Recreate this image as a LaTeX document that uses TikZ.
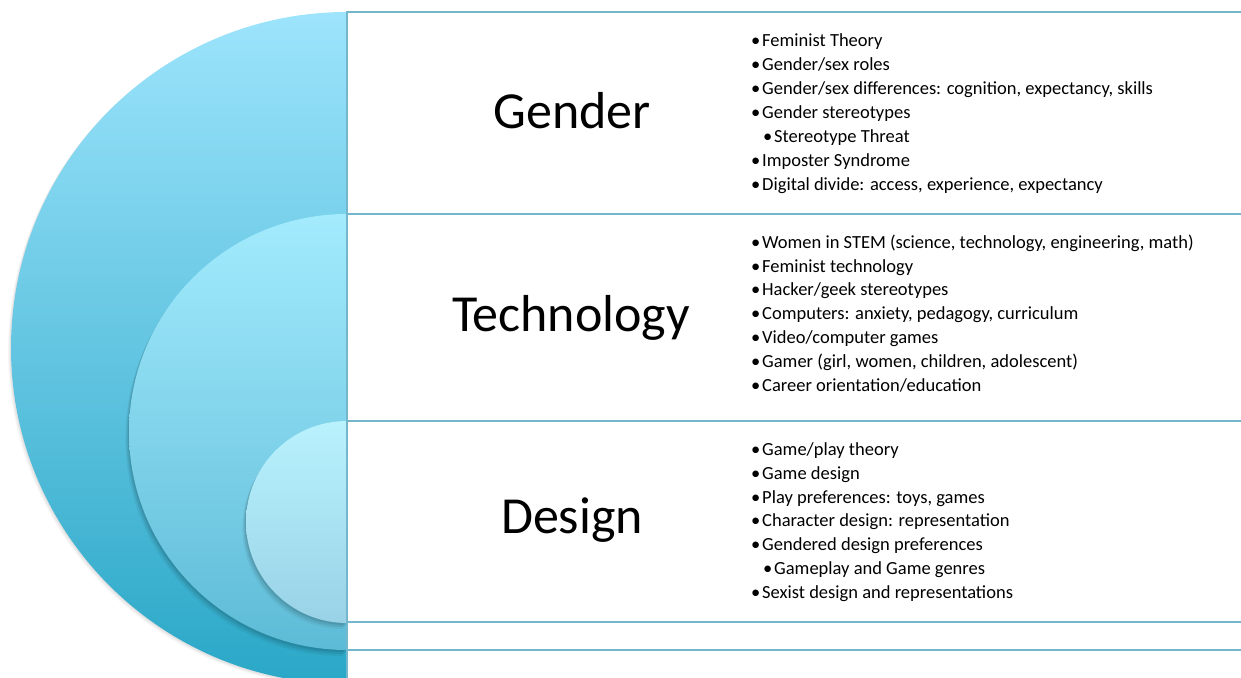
\documentclass[tikz,border=0pt]{standalone}
\usepackage{fontspec}
\setmainfont{Carlito}
\definecolor{outtop}{HTML}{9DE4FC}
\definecolor{outmid}{HTML}{88D7F1}
\definecolor{outbot}{HTML}{2AA7C7}
\definecolor{midtop}{HTML}{A3EBFD}
\definecolor{midmid}{HTML}{90DEF4}
\definecolor{midbot}{HTML}{5DBBD7}
\definecolor{inntop}{HTML}{B9F2FD}
\definecolor{innbot}{HTML}{99D2E6}
\definecolor{lineblue}{HTML}{74B6CC}
\newcommand{\bul}{\makebox[11pt][l]{\textbullet}}
\tikzset{
  head/.style={font=\fontsize{52}{60}\selectfont, anchor=base, inner sep=0pt},
  item/.style={font=\fontsize{18.5}{22}\selectfont, anchor=base west, inner sep=0pt},
  boxline/.style={draw=lineblue, line width=1.4pt, fill=white},
  sepline/.style={draw=lineblue, line width=1.4pt},
  shadowfill/.style={fill=black, opacity=#1},
}
\begin{document}
\begin{tikzpicture}[x=1pt,y=-1pt]
\useasboundingbox (0,0) rectangle (1241,677);
\clip (0,0) rectangle (1241,677);
% shadows and half discs
\begin{scope}
\clip (0,0) rectangle (347,677);
\foreach \d/\o in {3/0.03,2/0.04,1/0.05}{
  \fill[shadowfill=\o] (347-\d,12+\d) arc[start angle=270,end angle=90,radius=336] -- cycle;
}
\shade[top color=outtop, middle color=outmid, bottom color=outbot]
  (347,12) arc[start angle=270,end angle=90,radius=336] -- cycle;
\foreach \d/\o in {6/0.05,4/0.07,2/0.09}{
  \fill[shadowfill=\o] (347-\d*0.6,214+\d) arc[start angle=270,end angle=90,radius=218] -- cycle;
}
\shade[top color=midtop, middle color=midmid, bottom color=midbot]
  (347,214) arc[start angle=270,end angle=90,radius=218] -- cycle;
\foreach \d/\o in {6/0.05,4/0.07,2/0.09}{
  \fill[shadowfill=\o] (347-\d*0.6,421+\d) arc[start angle=270,end angle=90,radius=101] -- cycle;
}
\shade[top color=inntop, bottom color=innbot]
  (347,421) arc[start angle=270,end angle=90,radius=101] -- cycle;
\end{scope}
% boxes
\draw[boxline] (347,12) rectangle (1250,214);
\draw[boxline] (347,214) rectangle (1250,421);
\draw[boxline] (347,421) rectangle (1250,622);
\draw[sepline] (347,650) -- (1250,650);
\draw[sepline] (347,622) -- (347,680);
% headings
\node[head] (gender) at (572,128) {Gender};
\node[head] (technology) at (571,331) {Technology};
\node[head] (design) at (572,533) {Design};
% gender list
\node[item] (g1) at (751,46.5) {\bul Feminist Theory};
\node[item] (g2) at (751,70.5) {\bul Gender/sex roles};
\node[item] (g3) at (751,94.5) {\bul Gender/sex differences: cognition, expectancy, skills};
\node[item] (g4) at (751,118.5) {\bul Gender stereotypes};
\node[item] (g5) at (763,142.5) {\bul Stereotype Threat};
\node[item] (g6) at (751,166.5) {\bul Imposter Syndrome};
\node[item] (g7) at (751,190.5) {\bul Digital divide: access, experience, expectancy};
% technology list
\node[item] (t1) at (751,248.3) {\bul Women in STEM (science, technology, engineering, math)};
\node[item] (t2) at (751,272.1) {\bul Feminist technology};
\node[item] (t3) at (751,295.9) {\bul Hacker/geek stereotypes};
\node[item] (t4) at (751,319.7) {\bul Computers: anxiety, pedagogy, curriculum};
\node[item] (t5) at (751,343.5) {\bul Video/computer games};
\node[item] (t6) at (751,367.3) {\bul Gamer (girl, women, children, adolescent)};
\node[item] (t7) at (751,391.1) {\bul Career orientation/education};
% design list
\node[item] (d1) at (751,455.5) {\bul Game/play theory};
\node[item] (d2) at (751,479.3) {\bul Game design};
\node[item] (d3) at (751,503.1) {\bul Play preferences: toys, games};
\node[item] (d4) at (751,526.9) {\bul Character design: representation};
\node[item] (d5) at (751,550.7) {\bul Gendered design preferences};
\node[item] (d6) at (763,574.5) {\bul Gameplay and Game genres};
\node[item] (d7) at (751,598.3) {\bul Sexist design and representations};
\end{tikzpicture}
\end{document}
